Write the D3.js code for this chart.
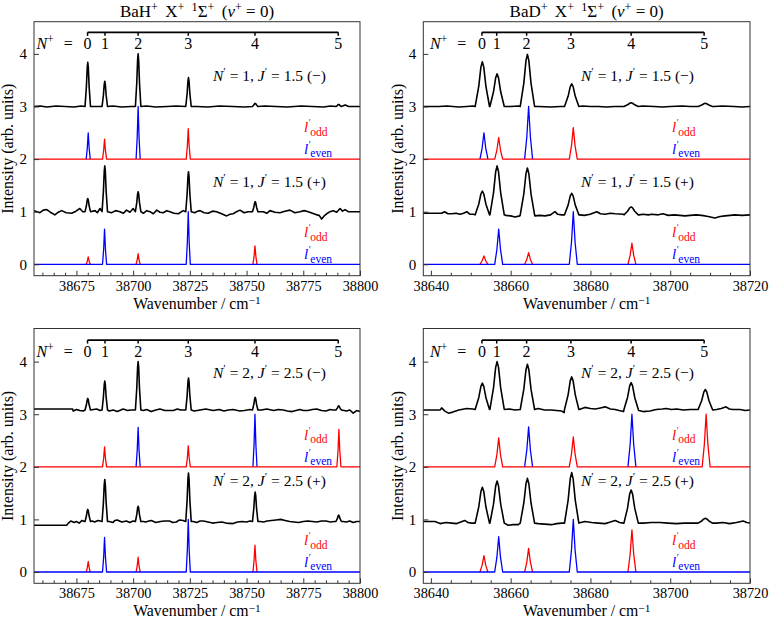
<!DOCTYPE html>
<html><head><meta charset="utf-8">
<script src="https://cdn.jsdelivr.net/npm/d3@7"></script>
<style>
body{margin:0;background:#fff}
svg{font-family:"Liberation Serif","Times New Roman",serif}
text{font-family:"Liberation Serif","Times New Roman",serif;fill:#000}
</style>
</head><body>
<svg id="c" width="769" height="620" xmlns="http://www.w3.org/2000/svg"></svg>
<script>
// ---------------- DATA ----------------
const ladderLabels = ["0","1","2","3","4","5"];
const bahLadder = [38679.9, 38687.6, 38702.2, 38724.3, 38753.7, 38790.4];
const badLadder = [38652.8, 38656.5, 38664.0, 38675.1, 38690.2, 38708.5];
const bahStickPos = [38680.2, 38687.4, 38702.2, 38724.3, 38753.7, 38790.7];
const badStickPos = [38653.3, 38657.0, 38664.5, 38675.7, 38690.4, 38709.0];
const bahPeakPos = [38680.0, 38687.5, 38702.2, 38724.4, 38753.8, 38790.6];
const badPeakPos = [38652.9, 38656.6, 38664.2, 38675.3, 38690.2, 38708.8];
const bahXTicks = [38675, 38700, 38725, 38750, 38775, 38800];
const badXTicks = [38640, 38660, 38680, 38700, 38720];
const yTicks = [0, 1, 2, 3, 4];

// stick intensities per N+ = 0..5 (odd = red, even = blue)
const bahN1MinusOdd  = [0, 0.38, 0, 0.58, 0, 0];
const bahN1MinusEven = [0.50, 0, 1.00, 0, 0, 0];
const bahN1PlusOdd   = [0.14, 0, 0.20, 0, 0.35, 0];
const bahN1PlusEven  = [0, 0.67, 0, 1.00, 0, 0];
const bahN2MinusOdd  = [0, 0.38, 0, 0.40, 0, 0.71];
const bahN2MinusEven = [0, 0, 0.75, 0, 1.00, 0];
const bahN2PlusOdd   = [0.20, 0, 0.28, 0, 0.51, 0];
const bahN2PlusEven  = [0, 0.66, 0, 1.00, 0, 0];
const badN1MinusOdd  = [0, 0.41, 0, 0.60, 0, 0];
const badN1MinusEven = [0.50, 0, 1.00, 0, 0, 0];
const badN1PlusOdd   = [0.16, 0, 0.22, 0, 0.40, 0];
const badN1PlusEven  = [0, 0.67, 0, 1.00, 0, 0];
const badN2MinusOdd  = [0, 0.55, 0, 0.57, 0, 1.00];
const badN2MinusEven = [0, 0, 0.76, 0, 1.00, 0];
const badN2PlusOdd   = [0.31, 0, 0.45, 0, 0.80, 0];
const badN2PlusEven  = [0, 0.67, 0, 1.00, 0, 0];

// measured spectra: peak tops per N+ (null = none) and baseline points [wavenumber, intensity]
const bahN1MinusTops = [3.84, 3.48, 4.00, 3.55, 3.06, 3.04];
const bahN1MinusBase = [[38656.3,3.0],[38659,3.01],[38662,2.99],[38666,3.01],[38670,3.0],[38674,2.99],[38677,3.01],[38684,3.0],[38691,3.01],[38695,2.99],[38699,3.0],[38706,3.01],[38710,2.99],[38715,3.0],[38719,3.01],[38728,3.0],[38733,2.99],[38738,3.01],[38744,3.0],[38749,2.99],[38758,3.01],[38763,3.0],[38768,2.99],[38774,3.01],[38779,3.0],[38784,2.99],[38787,3.01],[38793.5,3.03],[38795,3.0],[38800,3.0]];
const bahN1PlusTops = [1.25, 1.87, 1.38, 1.76, 1.19, null];
const bahN1PlusBase = [[38656.3,1.02],[38658.9,0.98],[38660.4,1.03],[38661.9,1.04],[38663.5,0.99],[38665.5,0.94],[38667,0.99],[38668.5,1.02],[38670.5,0.98],[38672.9,0.97],[38674.8,1.01],[38676.5,1.06],[38677.8,1.0],[38683.2,1.02],[38684.2,0.98],[38685.4,1.06],[38690.5,0.98],[38692.3,1.02],[38694.2,1.0],[38695.7,0.97],[38697.1,1.03],[38698.6,0.99],[38700.0,1.06],[38704.5,0.97],[38706,1.02],[38707.4,1.0],[38708.9,0.96],[38710.4,1.03],[38711.8,0.99],[38713.3,0.98],[38714.8,1.02],[38716.2,1.0],[38718,0.97],[38719.9,0.96],[38722.1,1.02],[38727.2,0.98],[38728.4,1.01],[38729.5,1.02],[38731.3,0.98],[38733.1,0.97],[38735,1.01],[38736.8,1.0],[38739,0.96],[38741.2,0.92],[38742.7,0.95],[38744.1,0.96],[38745.6,1.0],[38747.1,1.03],[38748.9,0.98],[38750.7,1.0],[38757.4,1.0],[38758.9,0.97],[38760.3,1.02],[38762.5,0.99],[38764.7,0.98],[38766.9,1.01],[38769.1,1.03],[38771.3,0.98],[38773.5,1.0],[38775.4,1.02],[38777.2,1.0],[38779,0.97],[38780.9,0.94],[38782,0.93],[38783.1,0.86],[38784.2,0.92],[38785.3,0.96],[38786.8,1.0],[38788.2,1.02],[38789.7,0.99],[38791.2,1.06],[38792.3,1.01],[38793.4,1.04],[38794.8,1.0],[38800,1.0]];
const bahN2MinusTops = [3.30, 3.63, 4.00, 3.69, 3.32, 3.16];
const bahN2MinusBase = [[38656.3,3.1],[38673.3,3.1],[38673.6,3.06],[38675,3.09],[38676.5,3.07],[38678,3.06],[38682.5,3.09],[38683.9,3.1],[38685.5,3.07],[38689.5,3.06],[38691.2,3.08],[38693,3.05],[38695.6,3.1],[38697.5,3.07],[38699,3.08],[38704.5,3.07],[38705.9,3.09],[38708,3.05],[38710,3.08],[38711.8,3.1],[38714,3.07],[38717.7,3.07],[38719.5,3.1],[38721,3.08],[38727,3.06],[38729.5,3.08],[38732,3.1],[38735.3,3.07],[38738,3.09],[38740,3.06],[38742,3.08],[38744.1,3.09],[38747,3.06],[38749,3.07],[38751.5,3.09],[38756.5,3.08],[38758.9,3.1],[38762,3.07],[38764,3.09],[38766.2,3.08],[38768,3.06],[38770,3.05],[38773.5,3.09],[38775,3.07],[38777,3.07],[38779,3.09],[38780.9,3.1],[38783,3.07],[38785,3.06],[38786.8,3.09],[38788.2,3.08],[38793,3.07],[38794.1,3.06],[38795.5,3.08],[38797,3.02],[38798.5,3.07],[38800,3.05]];
const bahN2PlusTops = [1.19, 1.76, 1.25, 1.88, 1.52, 1.08];
const bahN2PlusBase = [[38656.3,0.89],[38670.7,0.89],[38671.5,0.93],[38672.5,0.97],[38674,0.94],[38675,0.96],[38676.2,0.93],[38677.5,0.98],[38678.5,0.96],[38682,0.97],[38683,0.95],[38684.5,0.98],[38685.5,0.97],[38689.5,0.96],[38691,0.94],[38692,0.98],[38693,0.99],[38695,0.95],[38697,0.97],[38698.5,0.94],[38700,0.97],[38704.5,0.96],[38705.5,0.95],[38707,0.97],[38708,0.98],[38710,0.94],[38712,0.96],[38714,0.97],[38716,0.97],[38717.5,0.94],[38719,0.95],[38720.5,0.99],[38722,0.98],[38726.5,0.96],[38728,0.94],[38729.5,0.97],[38731,0.97],[38733,0.95],[38735,0.93],[38737,0.94],[38739,0.95],[38741,0.93],[38744,0.92],[38746,0.95],[38748,0.96],[38750,0.95],[38751.5,0.97],[38756,0.96],[38757.5,0.95],[38759,0.97],[38761,0.98],[38763,0.99],[38765,1.0],[38767,0.98],[38769,0.96],[38771,0.95],[38773,0.94],[38775,0.96],[38777,0.97],[38779,0.96],[38781,0.95],[38783,0.97],[38785,0.97],[38787,0.95],[38788.8,0.96],[38792.5,0.96],[38794,0.95],[38795.5,0.97],[38797,0.94],[38798.5,0.96],[38800,0.96]];

const badN1MinusTops = [3.85, 3.62, 3.99, 3.43, 3.07, 3.06];
const badN1MinusBase = [[38638,3.0],[38642,3.0],[38644,3.01],[38647,2.99],[38649,3.0],[38650.5,3.01],[38654.75,3.05],[38660,3.0],[38662,3.01],[38667,3.0],[38670,2.99],[38672.5,3.0],[38678,3.01],[38680,3.0],[38682,3.0],[38684,2.99],[38686,3.0],[38688,3.0],[38693,3.01],[38696,3.0],[38698,2.99],[38700,3.0],[38703,3.01],[38705,3.0],[38707,3.0],[38711,3.0],[38713,3.01],[38716,3.0],[38718,2.99],[38720,3.0]];
const badN1PlusTops = [1.39, 1.87, 1.83, 1.35, 1.09, null];
const badN1PlusBase = [[38638,0.97],[38642.7,0.97],[38643.4,1.0],[38644.3,0.96],[38645.2,0.96],[38646.3,0.97],[38647.3,0.95],[38648.2,0.97],[38649.0,1.0],[38649.8,0.95],[38650.6,0.95],[38654.75,0.95],[38658.8,0.93],[38660,0.92],[38661.1,0.9],[38662.3,0.92],[38666.1,0.92],[38667.2,0.93],[38668.6,0.92],[38670,0.94],[38671.1,1.0],[38671.8,0.95],[38672.8,0.94],[38673.4,0.94],[38677.3,0.94],[38678.5,0.93],[38679.9,0.95],[38681.6,1.0],[38682.5,0.96],[38683.7,0.95],[38685,0.97],[38686.2,0.96],[38688.3,0.95],[38692.2,0.94],[38693.2,0.95],[38694.5,0.94],[38695.4,0.95],[38697,0.94],[38698.2,0.96],[38699.5,0.93],[38701,0.94],[38702.4,0.93],[38703.7,0.92],[38705,0.93],[38706.5,0.94],[38707.9,0.93],[38709.5,0.91],[38711.2,0.88],[38712.5,0.91],[38713.7,0.92],[38715,0.93],[38716.2,0.94],[38718,0.93],[38720,0.94]];
const badN2MinusTops = [3.59, 4.00, 3.95, 3.71, 3.60, 3.47];
const badN2MinusBase = [[38638,3.08],[38642.3,3.08],[38642.7,3.12],[38643.5,3.06],[38644.4,3.02],[38645.5,3.04],[38647,3.08],[38649.0,3.11],[38650.5,3.1],[38651.1,3.1],[38654.75,3.14],[38658.4,3.13],[38659.7,3.1],[38661.1,3.08],[38662.4,3.09],[38666.0,3.1],[38666.9,3.11],[38668.5,3.08],[38670.2,3.08],[38671.5,3.07],[38672.8,3.06],[38673.4,3.03],[38677.2,3.09],[38678.6,3.13],[38680,3.11],[38681.2,3.1],[38682.5,3.12],[38683.7,3.14],[38685,3.1],[38686.2,3.09],[38687.2,3.07],[38688.3,3.05],[38692.1,3.07],[38693.2,3.05],[38694.9,3.06],[38696.5,3.09],[38698,3.1],[38699.0,3.11],[38700.3,3.09],[38701.6,3.1],[38703.3,3.08],[38705,3.09],[38706.9,3.09],[38710.7,3.08],[38711.6,3.09],[38712.8,3.11],[38714,3.14],[38714.8,3.1],[38715.7,3.09],[38717.5,3.09],[38718.8,3.07],[38720,3.08]];
const badN2PlusTops = [1.61, 1.73, 1.78, 1.89, 1.56, 1.02];
const badN2PlusBase = [[38638,0.96],[38641,0.96],[38642.3,0.92],[38643.8,0.94],[38645.2,0.93],[38646.5,0.92],[38647.5,0.95],[38648.5,0.98],[38649.3,0.94],[38650.2,0.93],[38651.1,0.93],[38654.75,0.93],[38658.4,0.91],[38659.4,0.89],[38660.6,0.9],[38661.9,0.9],[38662.4,0.9],[38666.0,0.92],[38666.9,0.92],[38668.5,0.91],[38670.2,0.9],[38671.5,0.92],[38672.8,0.93],[38673.5,0.93],[38677.1,0.94],[38678.6,0.96],[38680.3,0.94],[38682,0.93],[38683.7,0.92],[38685,0.95],[38686.2,0.98],[38687.3,0.94],[38688.3,0.93],[38692.0,0.93],[38693.2,0.93],[38695.3,0.94],[38697.4,0.94],[38699.5,0.93],[38701.6,0.92],[38703.5,0.93],[38705.7,0.93],[38707,0.94],[38710.6,0.94],[38711.6,0.93],[38713.2,0.94],[38714.9,0.92],[38716.6,0.94],[38718.3,0.97],[38719.2,0.94],[38720,0.93]];

// ---------------- DRAWING ----------------
const RED = "#ff0000", BLUE = "#0000ff";
const FONT = "'Liberation Serif','Times New Roman',serif";
const svg = d3.select("#c");

const panels = [
  {x0:34, x1:360, y0:21.7, y1:275.7, yDom:[-0.217,4.612], xDom:[38656.3,38800], mol:"BaH",
   ladder:bahLadder, stickPos:bahStickPos, peakPos:bahPeakPos, xTicks:bahXTicks, minorStep:5,
   sw:0.9, pw:1.2, Np:"1", Jp:"1.5", npY:[3.485,1.47], nlX:36.5, lX:304, ylX:12.5,
   minus:{odd:bahN1MinusOdd, even:bahN1MinusEven, tops:bahN1MinusTops, base:bahN1MinusBase},
   plus:{odd:bahN1PlusOdd, even:bahN1PlusEven, tops:bahN1PlusTops, base:bahN1PlusBase}},
  {x0:423.3, x1:750, y0:21.7, y1:275.7, yDom:[-0.217,4.612], xDom:[38638.1,38720], mol:"BaD",
   ladder:badLadder, stickPos:badStickPos, peakPos:badPeakPos, xTicks:badXTicks, minorStep:5,
   sw:1.0, pw:1.8, Np:"1", Jp:"1.5", npY:[3.485,1.47], nlX:430, lX:672, ylX:402.5,
   minus:{odd:badN1MinusOdd, even:badN1MinusEven, tops:badN1MinusTops, base:badN1MinusBase},
   plus:{odd:badN1PlusOdd, even:badN1PlusEven, tops:badN1PlusTops, base:badN1PlusBase}},
  {x0:34, x1:360, y0:328.5, y1:583.3, yDom:[-0.215,4.63], xDom:[38656.3,38800], mol:null,
   ladder:bahLadder, stickPos:bahStickPos, peakPos:bahPeakPos, xTicks:bahXTicks, minorStep:5,
   sw:0.9, pw:1.2, Np:"2", Jp:"2.5", npY:[3.69,1.635], nlX:36.5, lX:304, ylX:12.5,
   minus:{odd:bahN2MinusOdd, even:bahN2MinusEven, tops:bahN2MinusTops, base:bahN2MinusBase},
   plus:{odd:bahN2PlusOdd, even:bahN2PlusEven, tops:bahN2PlusTops, base:bahN2PlusBase}},
  {x0:423.3, x1:750, y0:328.5, y1:583.3, yDom:[-0.215,4.63], xDom:[38638.1,38720], mol:null,
   ladder:badLadder, stickPos:badStickPos, peakPos:badPeakPos, xTicks:badXTicks, minorStep:5,
   sw:1.0, pw:1.8, Np:"2", Jp:"2.5", npY:[3.69,1.635], nlX:430, lX:672, ylX:402.5,
   minus:{odd:badN2MinusOdd, even:badN2MinusEven, tops:badN2MinusTops, base:badN2MinusBase},
   plus:{odd:badN2PlusOdd, even:badN2PlusEven, tops:badN2PlusTops, base:badN2PlusBase}}
];
const titleSegs = mol => [{t:mol},{t:"+",sup:1},{t:" X",dx:3},{t:"+",sup:1},{t:" ",dx:3},{t:"1",sup:1},{t:"Σ"},{t:"+",sup:1},{t:" (",dx:3},{t:"v",i:1},{t:"+",sup:1},{t:" = 0)"}];

function rich(sel, segs, size, supShift){
  let cur = 0;
  const up = supShift == null ? 0.38*size : supShift;
  segs.forEach(s => {
    const shift = s.sup ? -up : (s.sub ? 0.28*size : 0);
    const ts = sel.append("tspan").text(s.t);
    if (shift - cur !== 0) ts.attr("dy", shift - cur);
    if (s.dx) ts.attr("dx", s.dx);
    cur = shift;
    if (s.sup || s.sub) ts.attr("font-size", (size*0.72).toFixed(1));
    if (s.i) ts.attr("font-style", "italic");
  });
}

const gauss7 = {off:[-1,-0.5,-0.2,0,0.2,0.5,1], fr:[0,0.45,0.88,1,0.88,0.45,0]};
const stick5 = {off:[-1,-0.45,0,0.45,1], fr:[0,0.42,1,0.42,0]};

function withPeaks(basePts, centers, tops, baseLevel, w, shape){
  const wins = [], pk = [];
  centers.forEach((c,i) => {
    const t = tops[i];
    if (t == null || t === baseLevel) return;
    wins.push([c-w, c+w]);
    shape.off.forEach((o,k) => pk.push([c + o*w, baseLevel + shape.fr[k]*(t - baseLevel)]));
  });
  const pts = basePts.filter(p => !wins.some(wn => p[0] >= wn[0] && p[0] <= wn[1])).concat(pk);
  pts.sort((a,b) => a[0]-b[0]);
  return pts;
}

let clipId = 0;
panels.forEach(p => {
  const x = d3.scaleLinear().domain(p.xDom).range([p.x0, p.x1]);
  const y = d3.scaleLinear().domain(p.yDom).range([p.y1, p.y0]);
  const g = svg.append("g").attr("font-family", FONT);
  const cid = "clip" + (clipId++);
  g.append("clipPath").attr("id", cid).append("rect")
    .attr("x", p.x0).attr("y", p.y0).attr("width", p.x1-p.x0).attr("height", p.y1-p.y0);
  const plot = g.append("g").attr("clip-path", `url(#${cid})`);
  const line = d3.line().x(d => x(d[0])).y(d => y(d[1]));

  // stick spectra: the lower layer only draws its peaks, the upper layer the full trace
  const stickLine = (vals, base, color, full) => {
    if (full) {
      const pts = withPeaks([[p.xDom[0], base],[p.xDom[1], base]], p.stickPos,
        vals.map(v => v > 0 ? base + v : null), base, p.sw, stick5);
      plot.append("path").attr("d", line(pts)).attr("fill","none")
        .attr("stroke", color).attr("stroke-width", 1.3).attr("stroke-linejoin","round");
    } else {
      p.stickPos.forEach((c,i) => {
        if (!(vals[i] > 0)) return;
        const pts = withPeaks([], [c], [base + vals[i]], base, p.sw, stick5);
        plot.append("path").attr("d", line(pts)).attr("fill","none")
          .attr("stroke", color).attr("stroke-width", 1.3).attr("stroke-linejoin","round");
      });
    }
  };
  stickLine(p.minus.even, 2, BLUE, false);
  stickLine(p.minus.odd, 2, RED, true);
  stickLine(p.plus.odd, 0, RED, false);
  stickLine(p.plus.even, 0, BLUE, true);

  // measured spectra
  [p.minus, p.plus].forEach(s => {
    const baseLevel = d3.median(s.base, d => d[1]);
    const pts = withPeaks(s.base, p.peakPos, s.tops, baseLevel, p.pw, gauss7);
    plot.append("path").attr("d", line(pts)).attr("fill","none")
      .attr("stroke", "#000").attr("stroke-width", 1.6).attr("stroke-linejoin","round");
  });

  // ladder
  const ly = y(4.41);
  g.append("line").attr("x1", x(p.ladder[0])).attr("x2", x(p.ladder[5]))
    .attr("y1", ly).attr("y2", ly).attr("stroke","#000").attr("stroke-width",1.8);
  p.ladder.forEach((v,i) => {
    g.append("line").attr("x1", x(v)).attr("x2", x(v)).attr("y1", ly).attr("y2", ly+3.5)
      .attr("stroke","#000").attr("stroke-width",1.5);
    g.append("text").attr("x", x(v)).attr("y", y(4.2)+5.5).attr("text-anchor","middle")
      .attr("font-size", 16).text(ladderLabels[i]);
  });
  const nl = g.append("text").attr("x", p.nlX).attr("y", y(4.2)+5.5).attr("font-size", 16);
  rich(nl, [{t:"N",i:1},{t:"+",sup:1},{t:" =",dx:6}], 16);

  // N', J' labels
  const sym = ["−","+"];
  [0,1].forEach(k => {
    const t = g.append("text").attr("x", p.lX - 91).attr("y", y(p.npY[k])).attr("font-size", 15.5);
    rich(t, [{t:"N",i:1},{t:"′",sup:1},{t:" = "+p.Np+", "},{t:"J",i:1},{t:"′",sup:1},{t:" = "+p.Jp+" ("+sym[k]+")"}], 15.5);
  });

  // l' labels
  [2,0].forEach(b => {
    [["odd", RED, 0.51],["even", BLUE, 0.1]].forEach(([lab, col, off]) => {
      const t = g.append("text").attr("x", p.lX).attr("y", y(b+off)).attr("font-size", 15)
        .style("fill", col);
      t.append("tspan").attr("font-style","italic").text("l");
      t.append("tspan").attr("dx", 0.6).attr("dy", -6).attr("font-size", 9.5).text("′");
      t.append("tspan").attr("dx", -0.5).attr("dy", 9.5).attr("font-size", 11.5).text(lab);
    });
  });

  // axes
  const minors = d3.range(Math.ceil(p.xDom[0]/p.minorStep)*p.minorStep, p.xDom[1]+0.01, p.minorStep)
    .filter(v => !p.xTicks.includes(v));
  const ax = g.append("g").attr("transform", `translate(0,${p.y1})`)
    .call(d3.axisBottom(x).tickValues(p.xTicks).tickSize(-5).tickPadding(5).tickFormat(d3.format("d")));
  ax.attr("font-family", FONT).attr("font-size", 15);
  ax.selectAll("text").attr("font-size", 14.3);
  ax.select(".domain").remove();
  const axm = g.append("g").attr("transform", `translate(0,${p.y1})`)
    .call(d3.axisBottom(x).tickValues(minors).tickSize(-3).tickFormat(""));
  axm.select(".domain").remove();
  const ayx = g.append("g").attr("transform", `translate(${p.x0},0)`)
    .call(d3.axisLeft(y).tickValues(yTicks).tickSize(-5).tickPadding(7).tickFormat(d3.format("d")));
  ayx.attr("font-family", FONT).attr("font-size", 15);
  ayx.selectAll("text").attr("font-size", 15);
  ayx.select(".domain").remove();
  g.selectAll(".tick line").attr("stroke", "#333");
  g.append("rect").attr("x", p.x0).attr("y", p.y0).attr("width", p.x1-p.x0).attr("height", p.y1-p.y0)
    .attr("fill","none").attr("stroke","#333").attr("stroke-width",1);

  // axis titles
  const xl = g.append("text").attr("x", (p.x0+p.x1)/2).attr("y", p.y1+33).attr("text-anchor","middle")
    .attr("font-size", 15.8);
  rich(xl, [{t:"Wavenumber / cm"},{t:"−1",sup:1}], 15.8, 4.5);
  g.append("text").attr("transform", `translate(${p.ylX},${(p.y0+p.y1)/2}) rotate(-90)`)
    .attr("text-anchor","middle").attr("font-size", 16).text("Intensity (arb. units)");
  if (p.mol) {
    const tt = g.append("text").attr("x", (p.x0+p.x1)/2).attr("y", 17).attr("text-anchor","middle")
      .attr("font-size", 17);
    rich(tt, titleSegs(p.mol), 17);
  }
});
</script>
</body></html>
